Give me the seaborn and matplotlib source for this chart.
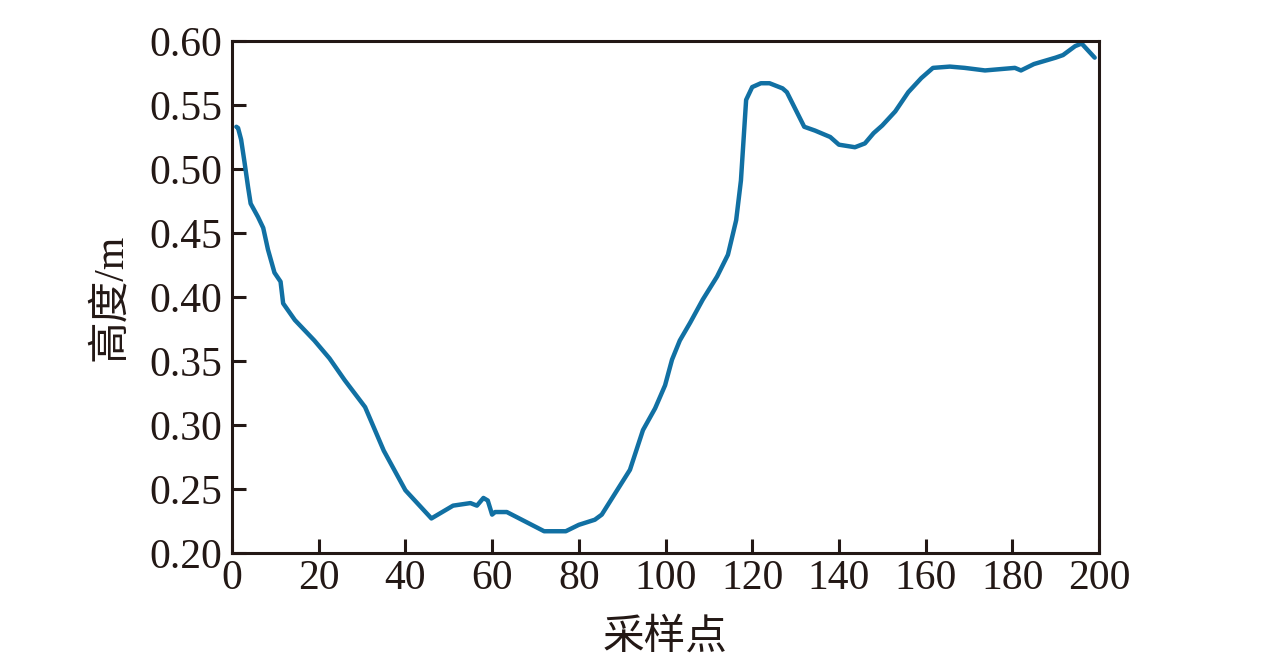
import matplotlib
matplotlib.use("Agg")
import matplotlib.pyplot as plt
import seaborn as sns
import pandas as pd

sample_x = [1, 1.4, 2.1, 2.9, 3.7, 4.3, 6, 7.2, 8.3, 9.8, 11.2, 11.8, 14.5, 19, 22.5, 26, 30.7, 35,
            40, 46, 51, 55, 56.5, 58, 59,
            60, 60.7, 63.4, 72, 77, 80, 83.7, 85.3, 91.8, 94.8, 97.6, 99.9, 101.5, 103.3, 105.7,
            108.6, 111.9, 114.4, 115.6, 116.3,
            117.4, 118.6, 120, 122, 124, 127, 128, 132, 134.5, 138, 140, 143.7, 146, 148, 150,
            153, 156, 159, 161.7, 165.6, 169, 173.7, 180.6, 182, 185, 190, 191.7, 194.5, 196, 199]
height = [0.533, 0.532, 0.523, 0.505, 0.486, 0.473, 0.4625, 0.454, 0.437, 0.419, 0.412, 0.395,
          0.382, 0.366, 0.352, 0.335, 0.314, 0.280,
          0.249, 0.227, 0.237, 0.239, 0.237, 0.243, 0.241,
          0.230, 0.232, 0.232, 0.217, 0.217, 0.222, 0.226, 0.230, 0.265, 0.296, 0.313, 0.331,
          0.351, 0.366, 0.380, 0.398, 0.416, 0.433, 0.450, 0.460,
          0.491, 0.554, 0.564, 0.567, 0.567, 0.563, 0.560, 0.533,
          0.530, 0.525, 0.519, 0.517, 0.520, 0.528, 0.534, 0.545, 0.560, 0.571, 0.579, 0.580,
          0.579, 0.577, 0.579, 0.577, 0.582, 0.587, 0.589, 0.596, 0.598, 0.587]

x_ticks = [0, 20, 40, 60, 80, 100, 120, 140, 160, 180, 200]
y_ticks = [0.20, 0.25, 0.30, 0.35, 0.40, 0.45, 0.50, 0.55, 0.60]
x_label = "采样点"
y_label = "高度/m"

sns.set_theme(style="ticks")
plt.rcParams['font.family'] = ['Liberation Serif', 'Noto Sans CJK SC']
plt.rcParams['axes.edgecolor'] = '#231815'
plt.rcParams['axes.linewidth'] = 2.2

df = pd.DataFrame({"x": sample_x, "y": height})

fig = plt.figure(figsize=(12.76, 6.6), dpi=100)
ax = fig.add_axes([232/1276, 1-553/660, (1099-232)/1276, (553-41)/660])
sns.lineplot(data=df, x="x", y="y", ax=ax, color="#1170a3", linewidth=3.2, sort=False,
             solid_joinstyle="round", solid_capstyle="round")

ax.set_xlim(0, 200)
ax.set_ylim(0.20, 0.60)
ax.set_xticks(x_ticks)
ax.set_yticks(y_ticks)
ax.set_yticklabels([f"{v:.2f}" for v in y_ticks])
ax.tick_params(direction="in", length=10, width=2.2, colors="#231815", labelsize=30, pad=7)
ax.tick_params(axis="x", pad=5)
for s in ax.spines.values():
    s.set_visible(True)
    s.set_color('#231815')
ax.set_xlabel(x_label, fontsize=30, family=['Noto Sans CJK SC'], color="#231815", labelpad=13)
ax.set_ylabel(y_label, fontsize=30, family=['Liberation Serif', 'Noto Sans CJK SC'],
              color="#231815", labelpad=14)

fig.savefig("out.png", dpi=100)
